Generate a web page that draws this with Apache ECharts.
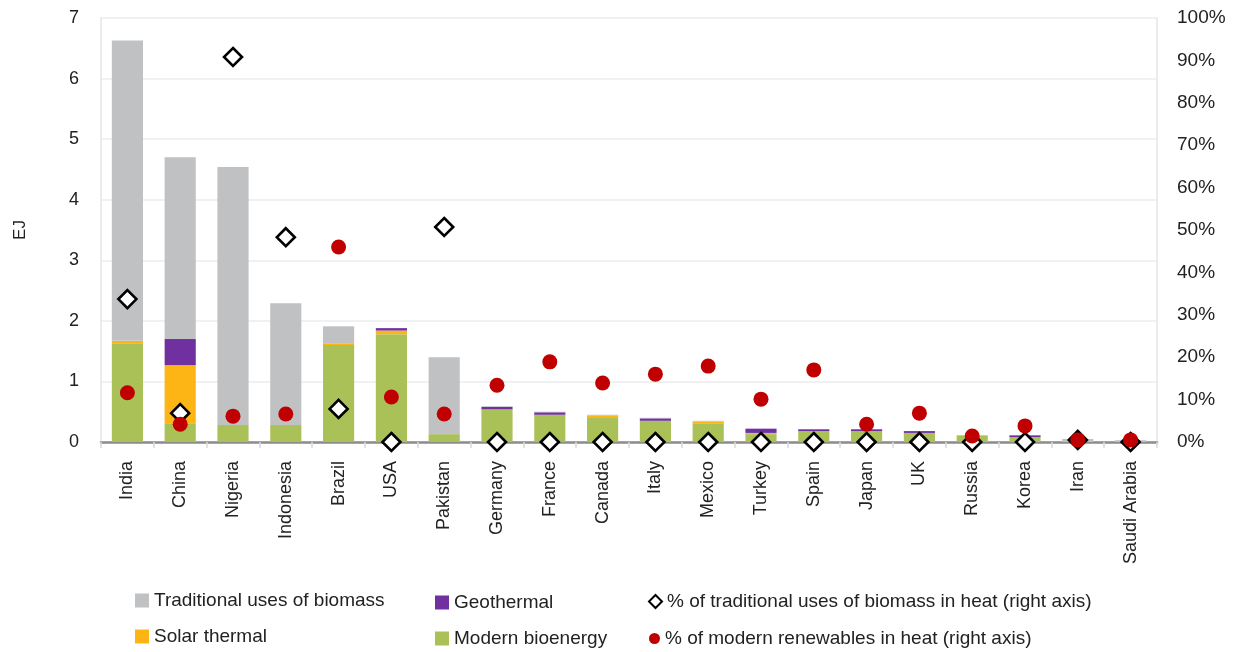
<!DOCTYPE html>
<html>
<head>
<meta charset="utf-8">
<script src="https://cdn.jsdelivr.net/npm/echarts@6/dist/echarts.min.js"></script>
<style>
  html, body { margin: 0; padding: 0; background: #fff; }
  #chart { width: 1236px; height: 652px; }
</style>
</head>
<body>
<div id="chart"></div>
<script>
var countries = ["India", "China", "Nigeria", "Indonesia", "Brazil", "USA", "Pakistan", "Germany", "France", "Canada",
  "Italy", "Mexico", "Turkey", "Spain", "Japan", "UK", "Russia", "Korea", "Iran", "Saudi Arabia"];

// EJ, stacked from the bottom
var modernBio = [1.63, 0.31, 0.28, 0.28, 1.60, 1.78, 0.13, 0.54, 0.45, 0.41, 0.35, 0.31, 0.13, 0.18, 0.18, 0.15, 0.11, 0.08, 0.00, 0.00];
var solarThermal = [0.04, 0.96, 0.00, 0.00, 0.03, 0.06, 0.00, 0.00, 0.00, 0.03, 0.00, 0.03, 0.02, 0.00, 0.00, 0.00, 0.00, 0.00, 0.00, 0.00];
var geothermal = [0.00, 0.43, 0.00, 0.00, 0.00, 0.04, 0.00, 0.04, 0.04, 0.00, 0.04, 0.00, 0.07, 0.03, 0.03, 0.03, 0.00, 0.03, 0.00, 0.00];
var traditional = [4.96, 3.00, 4.26, 2.01, 0.28, 0.00, 1.27, 0.01, 0.01, 0.01, 0.01, 0.01, 0.00, 0.00, 0.00, 0.00, 0.00, 0.00, 0.05, 0.03];

// % of heat (right axis)
var pctTraditional = [33.7, 6.8, 90.8, 48.3, 7.8, 0, 50.7, 0, 0, 0, 0, 0, 0, 0, 0, 0, 0, 0, 0.5, 0];
var pctModern = [11.6, 4.2, 6.1, 6.6, 46.0, 10.6, 6.6, 13.4, 18.9, 13.9, 16.0, 17.9, 10.1, 17.0, 4.2, 6.8, 1.4, 3.8, 0.5, 0.5];

var FONT = "Liberation Sans";
var NAME_TRAD = "% of traditional uses of biomass in heat (right axis)";
var NAME_MOD = "% of modern renewables in heat (right axis)";

var myChart = echarts.init(document.getElementById("chart"));

var legendItem = function (name, icon, left, top, size) {
  return {
    left: left,
    top: top,
    padding: 0,
    itemGap: 4,
    itemWidth: size,
    itemHeight: size,
    textStyle: { fontFamily: FONT, fontSize: 19, color: "#222" },
    data: [{ name: name, icon: icon }],
  };
};

var barSeries = function (name, data, color) {
  return {
    name: name,
    type: "bar",
    stack: "heat",
    barWidth: "59%",
    itemStyle: { color: color },
    data: data,
  };
};

var option = {
  backgroundColor: "#fff",
  animation: false,
  grid: { left: 101, right: 79, top: 18, bottom: 210 },
  legend: [
    legendItem("Traditional uses of biomass", "rect", 135, 591, 14),
    legendItem("Solar thermal", "rect", 135, 627, 14),
    legendItem("Geothermal", "rect", 435, 593, 14),
    legendItem("Modern bioenergy", "rect", 435, 629, 14),
    legendItem(NAME_TRAD, "diamond", 648, 592, 13),
    legendItem(NAME_MOD, "circle", 649, 629, 11),
  ],
  xAxis: {
    type: "category",
    data: countries,
    axisLine: { lineStyle: { color: "#8c8c8c", width: 2.5 } },
    axisTick: { show: true, length: 6, lineStyle: { color: "#d9d9d9", width: 1.5 } },
    axisLabel: { rotate: 90, fontFamily: FONT, fontSize: 18, color: "#222", margin: 19 },
  },
  yAxis: [
    {
      type: "value",
      min: 0, max: 7, interval: 1,
      name: "EJ",
      nameLocation: "middle",
      nameGap: 72,
      nameTextStyle: { fontFamily: FONT, fontSize: 17, color: "#222" },
      axisLine: { show: true, lineStyle: { color: "#e6e6e6", width: 1.5 } },
      axisTick: { show: false },
      splitLine: { lineStyle: { color: "#ececec", width: 1.5 } },
      axisLabel: { fontFamily: FONT, fontSize: 18, color: "#222", margin: 22 },
    },
    {
      type: "value",
      min: 0, max: 100, interval: 10,
      axisLine: { show: true, lineStyle: { color: "#e6e6e6", width: 1.5 } },
      axisTick: { show: false },
      splitLine: { show: false },
      axisLabel: { fontFamily: FONT, fontSize: 19, color: "#222", margin: 20, formatter: "{value}%" },
    },
  ],
  series: [
    barSeries("Modern bioenergy", modernBio, "#a9c156"),
    barSeries("Solar thermal", solarThermal, "#fdb515"),
    barSeries("Geothermal", geothermal, "#7030a0"),
    barSeries("Traditional uses of biomass", traditional, "#c0c1c3"),
    {
      name: NAME_TRAD,
      type: "scatter",
      yAxisIndex: 1,
      symbol: "diamond",
      symbolSize: 18,
      itemStyle: { color: "#fff", borderColor: "#000", borderWidth: 2.6, opacity: 1 },
      z: 3,
      data: pctTraditional,
    },
    {
      name: NAME_MOD,
      type: "scatter",
      yAxisIndex: 1,
      symbol: "circle",
      symbolSize: 15,
      itemStyle: { color: "#c00000", opacity: 1 },
      z: 4,
      data: pctModern,
    },
  ],
};

myChart.setOption(option);
</script>
</body>
</html>
